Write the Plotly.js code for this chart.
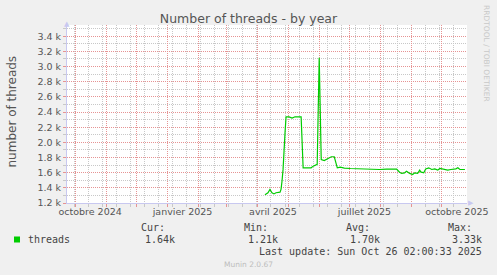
<!DOCTYPE html>
<html>
<head>
<meta charset="utf-8">
<script src="https://cdn.plot.ly/plotly-3.0.1.min.js"></script>
<style>html,body{margin:0;padding:0;background:#f0f0f0;}#chart{width:497px;height:275px;}</style>
</head>
<body>
<div id="chart"></div>
<script>
// ---- data ----
const dates = [
  '2025-04-08','2025-04-11','2025-04-13','2025-04-15','2025-04-17','2025-04-19','2025-04-23','2025-04-24',
  '2025-04-25','2025-04-26','2025-04-28','2025-04-29','2025-05-02','2025-05-05','2025-05-08','2025-05-11',
  '2025-05-14','2025-05-16','2025-05-21','2025-05-24','2025-05-26','2025-05-28','2025-05-30','2025-06-01',
  '2025-06-03','2025-06-06','2025-06-09','2025-06-13','2025-06-16','2025-06-19','2025-06-22','2025-06-26',
  '2025-07-02','2025-07-07','2025-07-12','2025-07-18','2025-07-25','2025-07-31','2025-08-07','2025-08-13',
  '2025-08-17','2025-08-20','2025-08-22','2025-08-25','2025-08-27','2025-08-30','2025-09-02','2025-09-04',
  '2025-09-07','2025-09-09','2025-09-10','2025-09-13','2025-09-15','2025-09-18','2025-09-21','2025-09-24',
  '2025-09-27','2025-09-29','2025-10-04','2025-10-07','2025-10-10','2025-10-15','2025-10-17','2025-10-19',
  '2025-10-24'
];
const threads = [
  1310,1335,1378,1335,1320,1335,1343,1380,
  1490,1640,2130,2337,2335,2320,2337,2337,
  2337,1664,1664,1664,1686,1695,1710,3115,
  1774,1760,1780,1810,1810,1664,1672,1660,
  1655,1652,1650,1655,1648,1642,1648,1650,
  1648,1606,1590,1598,1620,1590,1576,1598,
  1590,1633,1610,1598,1650,1664,1642,1650,
  1633,1655,1642,1633,1642,1650,1664,1642,
  1642
];
const monthStarts = ['2024-10-01','2024-11-01','2024-12-01','2025-01-01','2025-02-01','2025-03-01','2025-04-01',
  '2025-05-01','2025-06-01','2025-07-01','2025-08-01','2025-09-01','2025-10-01'];
const labelDates = ['2024-10-16','2025-01-16','2025-04-16','2025-07-16','2025-10-16'];
const labelText = ['octobre 2024','janvier 2025','avril 2025','juillet 2025','octobre 2025'];
const yTickVals = [1200,1400,1600,1800,2000,2200,2400,2600,2800,3000,3200,3400];
const yTickText = ['1.2 k','1.4 k','1.6 k','1.8 k','2.0 k','2.2 k','2.4 k','2.6 k','2.8 k','3.0 k','3.2 k','3.4 k'];
const statHeads = ['Cur:','Min:','Avg:','Max:'];
const statVals = ['1.64k','1.21k','1.70k','3.33k'];
const seriesName = 'threads';
const lastUpdate = 'Last update: Sun Oct 26 02:00:33 2025';

// ---- layout helpers ----
const L = 67, R = 467, T = 25, B = 203;
const px = x => (x - L) / (R - L);
const py = y => (B - y) / (B - T);
const RED = '#e69393', GRAY = '#c8c8c8', AXIS = '#c8c8f0', TXT = '#555555';
const xRange = ['2024-09-23', '2025-10-26 02:00'];
const mono = {family: 'DejaVu Sans Mono', size: 10, color: '#444'};

const traces = [
  {x: dates, y: threads, type: 'scatter', mode: 'lines', line: {color: '#00cc00', width: 1.2}, hoverinfo: 'skip', showlegend: false},
  {x: [], y: [], xaxis: 'x2', type: 'scatter', mode: 'lines', showlegend: false, hoverinfo: 'skip'}
];

const annotations = [];
const headX = [140, 242.7, 345, 446.7];
const valX = [175.7, 279, 380.7, 482.7];
statHeads.forEach((h, i) => annotations.push({text: h, xref: 'paper', yref: 'paper', x: px(headX[i]), y: py(227.7), xanchor: 'left', yanchor: 'middle', showarrow: false, font: mono, borderpad: 0}));
statVals.forEach((v, i) => annotations.push({text: v, xref: 'paper', yref: 'paper', x: px(valX[i]), y: py(239.3), xanchor: 'right', yanchor: 'middle', showarrow: false, font: mono, borderpad: 0}));
annotations.push({text: seriesName, xref: 'paper', yref: 'paper', x: px(26.7), y: py(239.3), xanchor: 'left', yanchor: 'middle', showarrow: false, font: mono, borderpad: 0});
annotations.push({text: lastUpdate, xref: 'paper', yref: 'paper', x: px(482.7), y: py(251.7), xanchor: 'right', yanchor: 'middle', showarrow: false, font: mono, borderpad: 0});
annotations.push({text: 'Munin 2.0.67', xref: 'paper', yref: 'paper', x: px(248), y: py(264), xanchor: 'center', yanchor: 'middle', showarrow: false, font: {family: 'DejaVu Sans', size: 7.5, color: '#bdbdbd'}, borderpad: 0});
annotations.push({text: 'RRDTOOL / TOBI OETIKER', xref: 'paper', yref: 'paper', x: px(487), y: py(53), xanchor: 'center', yanchor: 'middle', textangle: 90, showarrow: false, font: {family: 'DejaVu Sans', size: 7.5, color: '#c8c8c8'}, borderpad: 0});
annotations.push({text: 'number of threads', xref: 'paper', yref: 'paper', x: px(11), y: py(111.5), xanchor: 'center', yanchor: 'middle', textangle: -90, showarrow: false, font: {family: 'DejaVu Sans', size: 12, color: TXT}, borderpad: 0});
annotations.push({text: '▲', xref: 'paper', yref: 'paper', x: px(67), y: py(23.5), xanchor: 'center', yanchor: 'middle', showarrow: false, font: {family: 'DejaVu Sans', size: 7, color: AXIS}, borderpad: 0});
annotations.push({text: '▶', xref: 'paper', yref: 'paper', x: px(471), y: py(203), xanchor: 'center', yanchor: 'middle', showarrow: false, font: {family: 'DejaVu Sans', size: 7, color: AXIS}, borderpad: 0});

const shapes = [
  {type: 'rect', xref: 'paper', yref: 'paper', x0: px(14), x1: px(20), y0: py(242.5), y1: py(236.5), fillcolor: '#00cc00', line: {width: 0}}
];

const layout = {
  width: 497, height: 275,
  margin: {l: L, r: 497 - R, t: T, b: 275 - B, pad: 0},
  paper_bgcolor: '#f0f0f0', plot_bgcolor: '#ffffff',
  title: {text: 'Number of threads - by year', x: 248.5 / 497, xanchor: 'center', y: 1 - 19 / 275, yanchor: 'middle', font: {family: 'DejaVu Sans', size: 12.5, color: TXT}},
  xaxis: {type: 'date', range: xRange, tickmode: 'array', tickvals: labelDates, ticktext: labelText, showgrid: false, zeroline: false,
    ticks: '', showline: true, linecolor: AXIS, linewidth: 1, tickfont: {family: 'DejaVu Sans', size: 9.5, color: TXT}, fixedrange: true},
  xaxis2: {type: 'date', overlaying: 'x', anchor: 'y', side: 'bottom', range: xRange, tickmode: 'array', tickvals: monthStarts,
    showticklabels: false, showgrid: true, gridcolor: RED, griddash: '1px,1px', gridwidth: 1, ticks: 'outside', ticklen: 3, tickcolor: RED, zeroline: false, showline: false,
    minor: {tickmode: 'linear', tick0: '2024-09-30', dtick: 14 * 86400000, showgrid: true, gridcolor: GRAY, griddash: '1px,1px', ticks: 'outside', ticklen: 3, tickcolor: GRAY},
    fixedrange: true},
  yaxis: {range: [1200, 3548], tickmode: 'array', tickvals: yTickVals, ticktext: yTickText, showgrid: true, gridcolor: RED, griddash: '1px,1px', gridwidth: 1,
    ticks: 'outside', ticklen: 3, tickcolor: RED, showline: true, linecolor: AXIS, linewidth: 1, zeroline: false,
    minor: {tickmode: 'linear', tick0: 1200, dtick: 100, showgrid: true, gridcolor: GRAY, griddash: '1px,1px', ticks: 'outside', ticklen: 3, tickcolor: GRAY},
    tickfont: {family: 'DejaVu Sans', size: 9.5, color: TXT}, fixedrange: true},
  annotations: annotations,
  shapes: shapes,
  showlegend: false
};

Plotly.newPlot('chart', traces, layout, {staticPlot: true, displayModeBar: false});
</script>
</body>
</html>
